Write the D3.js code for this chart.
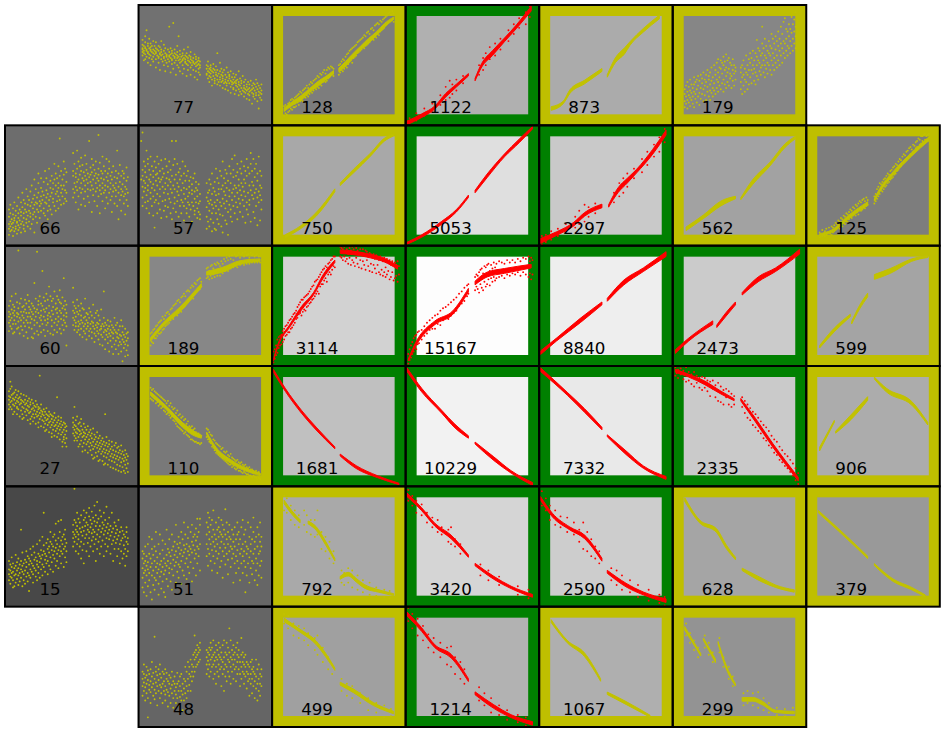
<!DOCTYPE html>
<html>
<head>
<meta charset="utf-8">
<script src="https://cdn.jsdelivr.net/npm/d3@7"></script>
<style>
  html, body { margin: 0; padding: 0; background: white; }
  svg { display: block; }
</style>
</head>
<body>
<script>
// hit counts per chip, null = no chip at that place
const counts = [
  [null, 77, 128, 1122, 873, 179, null],
  [66, 57, 750, 5053, 2297, 562, 125],
  [60, 189, 3114, 15167, 8840, 2473, 599],
  [27, 110, 1681, 10229, 7332, 2335, 906],
  [15, 51, 792, 3420, 2590, 628, 379],
  [null, 48, 499, 1214, 1067, 299, null]
];
// n = no frame, y = yellow frame, g = green frame
const status = [
  ["", "n", "y", "g", "y", "y", ""],
  ["n", "n", "y", "g", "g", "y", "y"],
  ["n", "y", "g", "g", "g", "g", "y"],
  ["n", "y", "g", "g", "g", "g", "y"],
  ["n", "n", "y", "g", "g", "y", "y"],
  ["", "n", "y", "g", "y", "y", ""]
];

// traces: [phase, amplitude, spread], each cell has two or more pieces
const bands = {
  128: [[[9,13,1.5],[15,18,1.5],[22,23,2],[28,29,1.5],[35,35,2],[40,39,1.5],[46,44,1.5]], [[50,46,1.5],[55,51,2],[60,57,2],[66,64,1.5],[72,70,2],[78,76,1.5],[84,83,1.5],[91,89,1]]],
  1122: [[[1,2,1.5],[12,8,1.5],[22,15,1.2],[30,25,1.5],[38,33,1.2],[47,42,1]], [[52,38,1],[57,50,1.5],[65,60,2],[74,71,1.5],[83,82,1.5],[94,97,2]]],
  873: [[[9,14,1.5],[18,19,1],[23,28,1.5],[34,36,1.5],[47,46,1.2]], [[51,41,1],[57,54,2],[64,62,2.5],[68,68,1.5],[78,79,1.5],[90,90,1.5]]],
  750: [[[10,8,1.2],[21,15,1.2],[33,26,1.5],[47,46,1.2]], [[51,51,1],[61,62,1.5],[74,76,1.2],[84,88,1.2],[91,92,0.8]]],
  5053: [[[1,2,0.8],[12,8,1],[27,19,1.2],[38,29,1],[47,41,1]], [[52,45,1],[61,58,1.5],[74,75,1.2],[85,87,1.5],[95,98,1]]],
  2297: [[[1,4,2],[13,10,1.5],[26,18,1.5],[34,26,1.5],[47,33,1.5]], [[52,33,1],[59,46,2],[66,54,2],[73,62,1.5],[85,78,2],[95,94,2]]],
  562: [[[10,14,1.5],[23,24,1.5],[36,35,2],[47,40,1]], [[51,39,0.8],[60,53,2],[73,68,1.5],[84,83,1.5],[92,90,1]]],
  125: [[[10,9,1],[19,12,1],[32,24,1.5],[46,35,1.5]], [[51,38,1],[55,46,1.5],[65,60,1.5],[79,76,1.5],[92,89,1.5]]],
  189: [[[9,22,1.5],[18,34,1.5],[31,47,2],[47,67,1.5]], [[51,77,1.5],[63,80,2],[76,86,1.5],[91,88,1]]],
  3114: [[[1,5,0.8],[5,19,1],[13,33,1],[22,48,1.5],[31,60,1],[38,74,1.5],[47,87,1]], [[51,95,1.5],[61,94,1.5],[71,92,1.5],[84,88,1.5],[94,82,1.5]]],
  15167: [[[2,5,0.8],[8,19,1.5],[22,36,1.5],[35,44,1.5],[47,63,1.5]], [[52,69,1.5],[61,76,2],[74,79,2],[94,83,1.5]]],
  8840: [[[1,11,1.5],[13,22,1.2],[31,38,1.8],[47,52,1.2]], [[51,55,1.2],[63,69,2],[78,80,1.5],[95,93,2]]],
  2473: [[[2,12,1.5],[12,22,1.2],[30,36,1.5]], [[33,33,1],[40,43,1.5],[47,52,1.2]], [[52,60,1],[64,72,2],[77,80,1.5],[95,95,2]]],
  599: [[[10,16,1],[21,30,1.5],[33,42,1]], [[34,36,1],[40,49,1.5],[46,59,1.5]], [[51,74,2],[63,79,2],[79,88,1],[91,91,0.8]]],
  110: [[[9,77,1.5],[21,65,1.5],[33,51,2],[40,45,2],[47,41,1]], [[51,44,1],[58,31,1.5],[70,20,1.5],[91,10,1]]],
  1681: [[[1,96,1.2],[10,80,1.2],[22,62,1.2],[33,48,1.2],[47,32,0.8]], [[51,26,0.8],[63,16,1.2],[79,8,0.8],[95,2,0.6]]],
  10229: [[[1,97,1.5],[12,80,1.5],[27,62,1.2],[37,50,1.5],[47,41,1]], [[52,36,0.8],[66,23,1.5],[79,12,1],[95,2,1.2]]],
  7332: [[[1,97,1.5],[21,77,1.2],[34,63,1.5],[47,48,1]], [[51,42,0.8],[65,28,1.5],[78,16,1],[95,7,1.2]]],
  2335: [[[2,96,1.2],[12,92,1.2],[24,86,1.5],[36,78,1.2],[46,72,0.8]], [[51,72,1],[62,55,1.5],[75,34,1.5],[94,6,1.5]]],
  906: [[[10,31,1.5],[21,54,0.8]], [[22,45,0.8],[34,58,2],[46,73,1.5]], [[51,90,0.8],[60,80,1.5],[79,69,1.5],[91,52,1]]],
  792: [[[9,87,1.5],[15,78,1.5],[21,71,1.2]], [[27,70,1.2],[33,65,1.5],[40,53,1.5],[47,39,1]], [[51,24,1.2],[57,27,1.5],[63,22,1.5],[69,17,1.5],[80,13,1],[91,10,0.8]]],
  3420: [[[1,93,1.5],[12,81,1.2],[22,68,1.2],[34,58,1.5],[47,42,1]], [[52,35,1],[66,24,1.2],[79,16,1],[95,9,1.2]]],
  2590: [[[1,90,1.5],[10,76,1.5],[23,65,1.2],[34,58,1.5],[47,39,1.2]], [[51,29,1.2],[65,18,1.5],[78,11,1.2],[95,5,1.5]]],
  628: [[[9,89,1.5],[20,71,1.2],[33,63,1.5],[40,50,1.5],[47,40,1]], [[52,31,1],[67,22,1.5],[77,17,1],[91,13,1]]],
  379: [[[9,79,1],[24,64,1],[46,41,1]], [[51,35,0.8],[65,22,1],[79,15,1],[89,9,0.8]]],
  499: [[[9,89,1.5],[21,80,1.2],[33,70,1.5],[40,60,1.5],[47,48,1]], [[51,36,1.2],[61,30,1.5],[76,19,1.2],[91,12,1]]],
  1214: [[[1,94,1.5],[12,81,1.5],[22,67,1.2],[34,59,1.5],[47,39,1.2]], [[52,28,1.2],[66,17,1.5],[79,9,1.2],[95,3,1.5]]],
  1067: [[[9,88,1.2],[21,71,1],[34,60,1.5],[46,39,1]], [[51,28,1],[65,20,1.2],[83,9,0.8]]],
  299: [[[9,82,1.5],[21,60,1]], [[23,73,1],[32,55,1.5]], [[34,70,1],[40,50,1.5],[47,35,1]], [[52,23,1.5],[60,23,1.5],[67,20,1.5],[77,13,1],[91,12,1]]]
};

// single hits, each row is [phase, amplitude, amplitude, ...]
const dots77 = [[3,58,61,63,64,67,71],[4,60,62,66,54],[5,55,59,64,65,69,74],[6,79,57,62,63],[7,61,66,68,60,52],[8,56,64,72,59],[9,62,58,65,50,63,68],[10,55,61,66],[11,60,53,63,70,57],[12,66,59,62],[13,48,55,61,60,64,69],[14,58,63],[15,52,57,62,56,66],[16,60,46,65,59],[17,55,58,63,61,70],[18,53,59],[19,50,62,56,57,67],[20,45,60,64,54],[21,59,52,57,58],[22,63,49,55],[23,82,61,53,58,57],[24,44,59,64,56],[25,51,55,60,62,54],[26,85,47,58],[27,57,52,63,56,60],[28,42,54,59],[29,56,50,58,61,66],[30,74,54,57,48],[31,59,52,55,62,45],[32,57,53],[33,43,55,60,50,58,54],[34,63,56,47],[35,52,58,53,55],[36,57,41,60,51],[37,50,54,65,46,56],[38,58,53],[39,48,52,55,61,42,57],[40,54,50],[41,46,56,53,52],[42,59,40,51],[43,55,45,49,52,57],[44,50,53,38],[45,47,51,56,54,44],[46,42,50,53,48],
  [51,47,43,50,42],[52,39,49,45,53],[53,44,41,47,36],[54,46,50,40,43,48],[55,33,38,45],[56,44,41,51,47],[57,37,46,39,35],[58,42,49,44],[59,60,34,41,46,38],[60,43,36],[61,40,52,45,33,38],[62,42,36,47],[63,31,39,44,37,41],[64,46,35],[65,38,42,30,36],[66,48,40,33,35],[67,44,29,37],[68,39,35,41,42],[69,32,37,27,45],[70,40,34,36],[71,38,43,30,31,35],[72,26,36,40],[73,33,37,29,42,35],[74,32,38],[75,45,25,34,30,36],[76,28,39,33],[77,35,31,26,37],[78,41,29],[79,33,36,24,31,28],[80,38,30,27],[81,34,22,32,29],[82,36,26,30],[83,31,21,28,34,25],[84,37,29],[85,18,33,27,30],[86,24,35,31,26],[87,29,22,34],[88,27,32,38,25],[89,20,30,35],[90,14,28,33,25],[91,31,23,27],[92,34,26,29,21]];

const dots66 = [[3,9,14,24,18,30],[4,20,27,12,16,34],[5,13,22,18],[6,26,8,15,19,31],[7,23,12,36,21],[8,16,29,14,25],[9,20,10,33,19],[10,27,17,40,13,23],[11,30,21,15],[12,11,25,18,36,28],[13,44,20,32],[14,14,27,23,38,17],[15,30,12,35],[16,22,28,19,47],[17,34,25,16,41],[18,38,20,29],[19,24,45,33,27,14],[20,50,18,36],[21,31,39,26,22],[22,11,42,28,55,34],[23,36,24,47],[24,19,40,30,35],[25,60,28,44,52],[26,33,23,37],[27,41,29,48,56,35],[28,18,38,45],[29,31,53,42,27],[30,62,25,36],[31,46,35,40,56],[32,29,51,22,43],[33,38,64,33],[34,48,41,54,30],[35,26,44,58],[36,52,36,47,39],[37,68,33,55],[38,43,50,29,60],[39,37,45,56],[40,66,31,48,52,41],[41,89,58,38],[42,44,62,50,34],[43,55,41,47],[44,59,35,70,50],[45,46,64,39],[46,53,61,44,37],
  [51,40,58,47,77,62],[52,52,68,44],[53,36,60,49,57],[54,79,46,64,53],[55,41,70,55,30],[56,59,48,66,],[57,34,52,44,62,73],[58,56,47,67],[59,61,39,54],[60,50,75,33,58,45],[61,63,55,68],[62,41,52,60,47],[63,87,36,57],[64,46,65,53,59],[65,28,72,50,61],[66,42,55,47,67],[67,58,37,63],[68,52,70,45,60],[69,33,56,48],[70,92,64,41,54,59],[71,27,50,69,46],[72,62,43,56],[73,37,74,52,48,60],[74,66,44,55],[75,31,50,62,46],[76,72,40,57],[77,54,35,60,49],[78,64,44,70],[79,38,52,47,58],[80,28,61,41,55],[81,45,66,50],[82,35,57,48,],[83,62,41,52,46],[84,79,33,56],[85,22,49,60,44],[86,67,38,53],[87,29,47,58,42],[88,62,51,45],[89,35,56,41,60],[90,26,49,43],[91,65,38,54,47],[92,33,57,44]];

const dots57 = [[2,87,55],[3,94,40,58,49,63,33],[4,70,45,54],[5,36,61,48,66,52],[6,79,42,57,31],[7,50,68,46,72,37],[8,63,27,55],[9,44,53,59,39,74],[10,66,33,48],[11,57,41,62,51,25],[12,15,70,46,36],[13,54,65,38,59],[14,43,27,60,50,74],[15,35,56,68],[16,47,62,30,41,53],[17,23,71,55],[18,64,37,49,57],[19,44,29,60,],[20,72,38,52,47,33],[21,66,24,56],[22,43,61,32,50],[23,70,39,55],[24,47,27,63,53,36],[25,87,58,44,22],[26,67,31,50],[27,40,72,55,35,47],[28,87,28,59],[29,45,68,37,52],[30,61,24,42,49],[31,55,33,64],[32,27,46,38,58],[33,70,52,36],[34,21,60,43,48,33],[35,66,54,39],[36,27,47,58,31],[37,62,41,36],[38,24,54,44,34,49],[39,30,57],[40,20,43,36,51,46],[41,33,56],[42,26,60,39,45,29],[43,36,53,48],[44,23,41,31,46],[45,51,28,35],[46,22,43,37,26],
  [51,14,32,52,24,40],[52,44,20,37],[53,55,16,29,46,35],[54,38,51,22],[55,12,60,34,43,27],[56,48,19,31],[57,53,36,45,14],[58,13,64,27,42,33],[59,56,22,38],[60,47,30,52,18,43],[61,62,36,26],[62,16,58,47,33],[63,11,70,39,50,25],[64,45,56,35],[65,21,63,31,52,42],[66,37,60,18,48],[67,9,54,28],[68,66,34,46,41],[69,24,60,52,30],[70,72,38,20,44],[71,57,33,63,47],[72,75,27,41,50],[73,36,58,48],[74,61,22,44,32,68],[75,55,39,50],[76,28,64,35,46],[77,70,42,52,60],[78,24,49,38],[79,66,33,45,55],[80,19,62,41,52],[81,72,36,58,30],[82,44,26,65],[83,50,38,60,34],[84,77,20,68,46],[85,53,42,62],[86,72,28,39,50],[87,23,57,44,64],[88,68,33,47],[89,17,54,40,60],[90,74,36,45],[91,21,62,50,42],[92,30,58,38,48]];

const dots60 = [[3,36,50,41,45,29],[4,54,33,43,38],[5,47,58,31,40],[6,35,44,51,27],[7,42,38,28,49,46],[8,60,35],[9,31,53,41,44],[10,96,37,48,32,43],[11,27,52,40],[12,45,56,33,38],[13,49,30,42],[14,25,36,45,50,40],[15,55,33,47],[16,38,28,44,52],[17,41,59,36,23],[18,49,32,54,44],[19,36,47,41],[20,24,52,31,45,39],[21,23,50,43],[22,69,34,48,38,27],[23,56,41,45],[24,95,29,47,36],[25,26,54,44,51],[26,33,58,40],[27,46,28,52,38,42],[28,79,35,50],[29,30,57,41,47],[30,25,54,38,45],[31,60,34,48],[32,42,29,55,39,36],[33,66,44,50],[34,27,58,41],[35,33,54,46,38],[36,26,56,49,43],[37,62,36,30],[38,47,39,52],[39,28,58,44,34,48],[40,37,55,41],[41,63,31,53,46],[42,27,44,39,52],[43,34,57,48],[44,73,30,50,42,38],[45,54,36,47],[46,17,44,33,51,41],
  [51,65,34,53,46,40],[52,30,50,44,38],[53,33,48,36,41],[54,55,28,45],[55,43,33,37,50,30],[56,46,26,35],[57,52,31,38,42],[58,24,48,36],[59,40,47,29,33],[60,56,35,41,27],[61,22,44,31,38],[62,43,36,33],[63,48,25,29,40],[64,31,45,35],[65,23,42,28,37],[66,51,33,36],[67,20,40,27,31],[68,44,25,34],[69,29,46,36,32],[70,22,42,35,27],[71,38,18,30],[72,47,26,33,31],[73,17,35,24],[74,62,40,28,33],[75,14,36,22,30],[76,29,26,34],[77,38,19,31,24],[78,12,33,27],[79,37,21,30,25],[80,16,34,28],[81,27,10,32,23],[82,40,18,30],[83,14,34,21,28],[84,36,24,27],[85,10,30,17,23],[86,33,20,26],[87,12,38,25,18],[88,4,33,22,28],[89,15,26,20],[90,31,8,24,18],[91,27,13,21],[92,9,28,17,23]];

const dots27 = [[3,68,79,72,75,64],[4,87,81,66,74,70],[5,83,64,76,71],[6,73,68,77,60],[7,62,78,67,72],[8,80,69,74],[9,60,76,66,71,65],[10,79,64,73,70],[11,58,74,68],[12,77,63,69,72],[13,60,71,66,56],[14,76,57,70,65],[15,72,62,68],[16,59,75,64,69],[17,55,71,63,67],[18,73,61,66],[19,56,70,62,68,52],[20,58,72,64],[21,54,69,60,65],[22,67,57,63],[23,52,71,60,66],[24,58,68,62],[25,53,66,59,64,49],[26,92,61,56,65],[27,50,68,58,63],[28,55,62,60],[29,49,64,54,59],[30,52,62,57,46],[31,65,47,55,60],[32,51,59,56],[33,45,62,53,58],[34,60,49,54],[35,44,59,51,56,41],[36,58,47,53],[37,42,61,50,55],[38,46,57,51],[39,74,41,53,48],[40,58,44,50,55],[41,39,52,47],[42,57,43,49,54],[43,37,51,45,33],[44,53,41,39,47],[45,36,52,43,49],[46,33,50,40,46],
  [51,57,44,49,53],[52,66,42,51,47,38],[53,55,40,45,50],[54,38,58,44,48],[55,52,41,47,33],[56,35,53,43,46],[57,56,38,44,50],[58,33,47,41,29],[59,52,36,45,42],[60,30,49,39,44],[61,47,35,41],[62,28,50,37,43],[63,45,33,39],[64,30,47,42,36],[65,26,44,34,40],[66,48,31,37,23],[67,24,43,33,39],[68,41,28,35],[69,25,45,37,32],[70,29,40,34,21],[71,22,42,31,36],[72,38,27,33],[73,21,40,29,35],[74,37,25,31,18],[75,60,19,34,28],[76,41,24,30,36],[77,18,33,27],[78,38,22,29,35],[79,16,31,25],[80,37,21,27,33],[81,15,30,24],[82,34,20,26],[83,14,36,23,29],[84,32,18,25],[85,13,33,22,28],[86,30,17,24],[87,12,34,20,27],[88,29,16,23],[89,13,26,21],[90,11,30,18,24],[91,27,15,22],[92,12,25,19]];

const dots15 = [[3,27,22,38,31],[4,35,19,25,30],[5,41,24,33,28],[6,16,36,22,29],[7,32,17,26],[8,43,20,34,27],[9,30,23,37],[10,18,40,26,32],[11,35,21,28],[12,64,38,24,31],[13,45,17,29,34],[14,36,22,27],[15,19,39,30],[16,46,25,33,37],[17,28,42,21],[18,13,35,40,26],[19,48,24,31,38],[20,36,29,43],[21,50,20,34,27],[22,39,32,45],[23,30,25,41],[24,52,22,35,38],[25,44,28,33],[26,55,24,37,42],[27,40,31,47],[28,58,26,35,43],[29,78,33,46,51],[30,39,44,29],[31,53,36,42],[32,27,56,38,48],[33,34,45,50],[34,62,31,41,54],[35,47,37,52],[36,58,29,43,50],[37,40,60,46],[38,69,34,49,55],[39,52,38,44],[40,71,32,57,47],[41,42,62,50],[42,72,36,46,55],[43,58,44,52],[44,33,60,48],[45,64,41,50,56],[46,37,53,46],
  [51,68,50,57,62],[52,98,54,72,60],[53,46,70,58,64],[54,78,52,62,67],[55,44,73,56,60],[56,65,50,70],[57,40,76,54,62],[58,47,66,59],[59,36,80,52,63,72],[60,67,57,74],[61,46,78,60,70],[62,53,68,64],[63,42,82,57,75,62],[64,72,50,66],[65,79,55,61,69],[66,46,74,58,64],[67,84,52,62,71],[68,38,76,56,67],[69,87,48,60,70],[70,54,73,64],[71,44,80,58,67],[72,75,50,62],[73,55,70,65],[74,42,78,60,68],[75,52,72,63],[76,83,46,57,66],[77,69,50,61],[78,74,56,64],[79,44,67,59],[80,78,52,62],[81,38,65,55],[82,70,48,58],[83,53,67,61],[84,42,64,56],[85,72,48,59],[86,36,62,52],[87,66,46,55],[88,40,63,57],[89,60,44,51],[90,34,58,48],[91,66,42,54,62],[92,46,57,52]];

const dots51 = [[3,46,16,32,24,40],[4,12,44,28,36],[5,50,20,38,30],[6,9,42,26,34],[7,52,17,37,31],[8,58,22,44,28],[9,12,40,33],[10,6,56,26,48,36],[11,43,18,30],[12,50,14,38,24],[13,62,22,46,33],[14,41,28,36],[15,10,52,19,31],[16,60,25,44,35],[17,38,15,29],[18,55,21,47,33],[19,12,40,27],[20,8,52,30,36],[21,64,23,43,34],[22,48,17,38],[23,56,28,45,32],[24,42,21,36],[25,60,14,47,31],[26,50,26,39],[27,54,34,43],[28,68,20,46,37],[29,52,29,41],[30,58,24,49,35],[31,44,33,53],[32,62,19,47,38],[33,30,56,42],[34,70,26,51,45],[35,60,36,48],[36,23,52,40],[37,66,33,57,46],[38,28,50,43],[39,62,37,48],[40,21,68,54,45],[41,58,32,51],[42,40,60,47],[43,65,26,55,44],[44,73,36,50,58],[45,62,42,48],[46,73,30,68,52],
  [51,70,42,60,52],[52,78,34,66,48],[53,74,44,62,56],[54,38,68,52],[55,30,72,58,47],[56,80,42,64,54],[57,36,60,50],[58,70,46,56],[59,28,64,40,52],[60,74,44,66,58],[61,33,62,49],[62,72,38,60,54],[63,24,68,46,58],[64,64,42,52],[65,81,35,60,49],[66,70,44,56],[67,27,62,39,52],[68,68,46,58],[69,33,56,50],[70,64,40,48],[71,20,60,44,54],[72,66,36,50],[73,28,56,42],[74,70,38,60,47],[75,32,62,52],[76,22,56,44],[77,66,36,48],[78,72,28,52,42],[79,60,38,46],[80,12,64,33,54],[81,50,26,44],[82,70,36,48],[83,20,58,41],[84,66,32,52,46],[85,56,27,38],[86,74,36,62,44],[87,22,54,48],[88,58,30,40],[89,18,66,36,50],[90,60,26,44],[91,70,34,54,46],[92,58,24,50,38]];

const dots48 = [[3,46,26,40,34],[4,52,30,44,37],[5,22,41,33],[6,50,28,43,36],[7,8,47,24,39],[8,44,31,35],[9,48,20,38,29],[10,54,33,42],[11,45,26,36],[12,75,40,23,31],[13,50,28,46,37],[14,43,18,34],[15,48,30,39],[16,52,24,44,35],[17,41,28,33],[18,46,20,36],[19,44,30,38],[20,48,22,34,27],[21,45,31,40],[22,38,17,29],[23,43,26,36],[24,41,20,32],[25,46,28,35],[26,38,16,24],[27,42,30,36],[28,33,20,27],[29,45,24,36],[30,38,18,30],[31,42,25,34],[32,44,22,30],[33,36,14,27],[34,40,22,32],[35,50,28,38],[36,46,24,34],[37,54,30,40],[38,50,35,44],[39,56,30,42],[40,52,38,46],[41,60,42,50],[42,76,62,46,56],[43,64,50,58],[44,68,52,60],[45,66,54,62],[46,70,56,64],
  [51,64,44,58,52],[52,62,48,55],[53,66,42,60,52],[54,70,46,64,56],[55,66,50,58],[56,72,40,60,52],[57,62,44,55],[58,68,36,58,50],[59,64,46,56],[60,70,42,60,52],[61,66,48,58],[62,62,34,56,50],[63,68,44,54],[64,72,30,58,48],[65,62,42,52],[66,70,38,60,50],[67,66,46,56],[68,82,62,42,54],[69,72,36,58,50],[70,64,46,56],[71,68,40,60,52],[72,62,48,56],[73,66,38,50],[74,70,44,60,54],[75,64,48,58],[76,54,34,44],[77,74,60,40,50],[78,62,46,54],[79,58,36,52,44],[80,60,42,50],[81,54,32,46],[82,52,38,44],[83,50,26,40],[84,54,36,44],[85,56,28,48,40],[86,50,34,46],[87,44,24,38],[88,56,32,42],[89,48,22,36],[90,52,30,40],[91,44,26,36],[92,48,34,42]];

const dots179 = [[9,30,15,26,20],[10,33,18,24],[11,36,14,28,21],[12,32,19,25],[13,38,16,29,23],[14,34,21,27],[15,31,18,24],[16,40,15,34,28],[17,36,22,26],[18,38,19,30],[19,41,24,33],[20,37,17,27],[21,42,22,31],[22,39,26,35],[23,44,20,30],[24,38,25,33],[25,42,21,36],[26,46,28,32],[27,41,24,38],[28,44,21,34,29],[29,48,27,37],[30,40,24,31],[31,50,29,35],[32,46,26,42],[33,52,31,38],[34,55,28,44,36],[35,48,33,40],[36,54,30,47],[37,52,35,43],[38,57,28,50,38],[39,53,34,46],[40,59,31,48,41],[41,54,36,44],[42,56,33,47],[43,52,39,43],[44,50,31,41],[45,55,37,46],[46,50,33,43],[47,48,38,45],
  [51,48,30,44,36],[52,50,26,40],[53,54,33,42],[54,47,28,38],[55,58,36,44],[56,50,30,42],[57,55,34,46],[58,60,40,52],[59,56,35,46],[60,62,43,50],[61,54,37,47],[62,60,34,44],[63,71,41,57,50],[64,64,38,54],[65,62,45,52],[66,58,42,48],[67,82,68,50,60],[68,64,44,54],[69,72,40,50,58],[70,66,47,56],[71,62,43,52],[72,70,50,60],[73,66,46,58],[74,76,42,64,54],[75,72,50,60],[76,68,46,56],[77,74,52,63],[78,70,48,58],[79,78,54,66],[80,72,50,62],[81,82,58,68],[82,76,52,64],[83,86,60,70],[84,89,56,68],[85,80,62,72],[86,78,58,66],[87,84,64,74],[88,80,60,70],[89,90,66,77],[90,84,62,72],[91,88,68,78],[92,94,64,74,82]];

const dots128 = [[9,8,16],[10,10,17],[11,9,15],[12,18,11],[13,12,19],[14,14,21],[15,13,22],[16,21,15],[17,15,23,18],[18,24,16],[19,19,25],[20,17,26],[21,28,20],[22,27,21],[23,20,29],[24,24,30],[25,31,23],[26,25,33],[27,24,31],[28,34,26],[29,28,36],[30,27,35],[31,37,29],[32,31,38],[33,30,39],[34,41,32],[35,40,31],[36,34,43],[37,33,42],[38,44,36],[39,37,46],[40,36,43],[41,46,37],[42,39,48],[43,40,47],[44,49,42],[45,43,48],[46,41,47],
  [50,42,50],[51,44,51],[52,53,46],[53,45,55],[54,47,54],[55,57,49],[56,48,59],[57,51,60],[58,62,53],[59,54,63],[60,52,64],[61,56,65],[62,66,57],[63,58,67],[64,60,69],[65,70,61],[66,62,71],[67,63,72],[68,73,65],[69,64,75],[70,66,74],[71,77,67],[72,68,78],[73,69,76],[74,80,71],[75,72,81],[76,71,79],[77,83,74],[78,73,84],[79,76,85],[80,75,84],[81,87,78],[82,79,86],[83,80,88],[84,89,81],[85,83,90],[86,84,91],[87,85,93],[88,94,86],[89,87,92],[90,88,95],[91,86,93]];

const dots125 = [[10,7,11],[12,8,13],[14,8,12],[15,14,9],[17,11,15],[18,10],[19,16,9],[20,15,11],[21,17,12],[22,13,19],[23,18,14],[24,21,15],[25,14,20],[26,23,17],[27,16,22],[28,25,19],[29,18,24],[30,27,20],[31,20,26],[32,28,22],[33,24,30],[34,23,29],[35,32,25],[36,26,31],[37,34,25],[38,28,33],[39,26,35],[40,31,37],[41,29,36],[42,38,30],[43,32,39],[44,31,37],[45,40,33],[46,34,38],
  [51,35,41],[52,43,37],[53,39,47],[54,41,49],[55,52,43],[56,46,51],[57,45,53],[58,55,47],[59,49,56],[60,50,58],[61,60,52],[62,53,59],[63,62,55],[64,56,63],[65,57,65],[66,66,59],[67,60,68],[68,62,67],[69,70,63],[70,65,72],[71,66,71],[72,74,68],[73,69,76],[74,70,75],[75,78,71],[76,73,79],[77,74,81],[78,82,76],[79,76,80],[80,78,84],[81,79,83],[82,86,81],[83,82,87],[84,89,82],[85,84,88],[86,91,85],[87,87,91],[88,86,92],[89,88,93],[90,88,91],[91,87,92],[92,90,93]];

const dots189 = [[9,17,27],[10,20,28],[11,19,30],[12,31,23],[13,23,33],[14,25,34],[15,36,27],[16,27,37],[17,28,38],[18,41,30],[19,31,39],[20,33,42],[21,44,34],[22,35,45],[23,36,43],[24,47,38],[25,40,48],[26,39,50],[27,51,42],[28,43,52],[29,42,54],[30,55,44],[31,46,53],[32,45,57],[33,58,48],[34,49,60],[35,50,58],[36,62,52],[37,53,63],[38,55,62],[39,65,57],[40,58,67],[41,56,66],[42,69,60],[43,61,68],[44,62,71],[45,72,63],[46,64,73],[47,66,70],
  [51,73,81],[52,82,74],[53,72,79],[54,83,75],[55,73,84],[56,76,81],[57,85,74],[58,77,84],[59,75,86],[60,78,85],[61,75,83],[62,87,79],[63,77,85],[64,89,80],[65,79,87],[66,81,90],[67,79,88],[68,91,82],[69,81,89],[70,92,83],[71,82,88],[72,93,84],[73,83,91],[74,82,92],[75,94,85],[76,84,90],[77,85,93],[78,94,86],[79,84,91],[80,87,95],[81,85,92],[82,93,87],[83,85,90],[84,88,94],[85,86,92],[86,93,88],[87,86,91],[88,87,92],[89,86,93],[90,88,91],[91,86,91]];

const dots110 = [[9,73,82],[10,80,72],[11,71,81],[12,73,79],[13,78,69],[14,70,77],[15,76,67],[16,68,75],[17,74,65],[18,66,73],[19,72,63],[20,62,71],[21,69,60],[22,61,71],[23,59,67],[24,69,57],[25,58,66],[26,55,64],[27,65,54],[28,52,61],[29,63,50],[30,59,49],[31,60,48],[32,47,57],[33,58,46],[34,55,44],[35,56,45],[36,43,52],[37,54,42],[38,50,41],[39,49,39],[40,50,39],[41,47,38],[42,48,37],[43,45,37],[44,44,36],[45,44,36],[46,35,43],[47,36,42],
  [51,48,41],[52,39,47],[53,37,45],[54,36,43],[55,33,42],[56,32,39],[57,30,38],[58,28,36],[59,35,27],[60,26,34],[61,33,25],[62,24,31],[63,32,23],[64,22,29],[65,28,21],[66,29,20],[67,19,26],[68,25,18],[69,18,27],[70,24,16],[71,23,17],[72,15,22],[73,21,14],[74,22,15],[75,13,20],[76,19,13],[77,20,12],[78,11,18],[79,17,12],[80,18,11],[81,10,16],[82,15,10],[83,16,9],[84,14,9],[85,8,14],[86,13,9],[87,8,12],[88,13,7],[89,11,6],[90,12,7],[91,6,10]];

// red and yellow scatter around the thick traces
const fuzz3114 = [[1,3,12],[2,14,6],[3,9,17],[4,22,11],[5,15,24],[6,25,17],[7,18,26],[8,29,20],[9,22,31],[10,33,25],[11,26,34],[12,36,28],[13,28,38],[14,39,31],[15,32,41],[16,43,34],[17,36,44],[18,46,39],[19,40,49],[20,51,43],[21,44,53],[22,42,55],[23,55,45],[24,47,57],[25,46,58],[26,59,49],[27,50,60],[28,62,52],[29,53,64],[30,66,55],[31,56,67],[32,58,70],[33,71,60],[34,62,72],[35,60,74],[36,76,66],[37,68,78],[38,68,80],[39,81,71],[40,73,83],[41,70,82],[42,85,76],[43,78,86],[44,76,88],[45,89,80],[46,83,91],[47,82,91],
  [51,91,99],[52,98,90],[53,88,97],[54,99,91],[55,87,95],[56,97,89],[57,85,93],[58,98,90],[59,84,96],[60,88,99],[61,97,86],[62,83,95],[63,90,98],[64,85,96],[65,82,93],[66,97,88],[67,81,94],[68,87,97],[69,84,92],[70,96,80],[71,88,95],[72,83,91],[73,94,79],[74,85,93],[75,78,90],[76,93,84],[77,81,89],[78,92,77],[79,84,90],[80,78,88],[81,91,76],[82,80,89],[83,87,75],[84,90,78],[85,82,74],[86,89,76],[87,79,86],[88,72,88],[89,84,74],[90,87,78],[91,71,84],[92,86,73],[93,75,84],[94,70,87],[95,76,83]];

const fuzz15167 = [[2,2,10],[3,14,5],[4,7,17],[5,20,10],[6,12,23],[7,25,15],[8,14,26],[9,28,18],[10,19,29],[12,30,22],[14,33,25],[16,27,36],[18,38,30],[20,31,40],[22,42,31],[24,35,43],[26,34,46],[28,48,38],[30,40,49],[32,39,51],[34,53,42],[36,44,55],[38,46,57],[40,60,50],[42,52,62],[44,54,65],[46,67,58],[47,60,68],
  [52,63,74],[53,76,66],[54,64,75],[55,61,78],[56,80,68],[57,65,81],[58,63,77],[59,83,70],[60,66,82],[61,68,84],[62,72,85],[63,67,79],[64,84,73],[65,70,81],[66,86,74],[67,71,82],[68,85,73],[70,74,87],[72,75,86],[74,73,85],[76,88,76],[78,75,86],[80,77,88],[82,76,86],[84,89,78],[86,75,87],[88,90,78],[90,76,89],[92,74,91],[93,77,87],[94,72,90],[95,76,88]];

const fuzz2335 = [[2,99,92],[3,94],[4,97,90],[5,100],[6,93,98],[8,89,96],[10,99,87],[12,95,88],[14,85,93],[16,95,83],[18,86,92],[20,82,90],[22,91,80],[24,82,90],[26,79,88],[28,87,75],[30,81,88],[32,74,84],[34,86,71],[36,70,83],[38,80,68],[40,74,81],[42,68,79],[44,66,77],[46,68,75],
  [52,74,66],[54,61,71],[56,68,57],[58,55,65],[60,62,51],[62,49,60],[64,57,46],[66,44,54],[68,51,40],[70,38,49],[72,46,34],[74,32,42],[76,39,28],[78,26,37],[80,33,22],[82,30,20],[84,27,17],[86,15,25],[88,22,12],[90,9,19],[92,5,15],[94,2,11]];

const fuzz1122 = [[3,6,0],[8,10,4],[14,14,8],[20,18,11],[26,25,17],[30,32,21],[33,37,23],[35,26,34],[38,38,29],[43,41,35],[55,50,42],[58,56,46],[60,60,50],[63,65,55],[67,68,58],[71,72,63],[77,79,70],[81,84,76],[85,89,81],[90,94,84],[93,99,90]];
const fuzz2297 = [[2,8,1],[5,9,3],[9,12,5],[14,14,8],[20,18,12],[27,24,15],[30,29,18],[34,34,20],[37,32,24],[42,35,27],[56,44,36],[60,52,41],[63,56,44],[66,60,49],[71,64,56],[77,72,61],[81,78,67],[86,84,74],[90,90,78],[94,97,86]];
const fuzz3420 = [[2,97,88],[5,92,84],[8,88,78],[12,85,76],[16,78,70],[20,74,66],[24,72,62],[27,66,60],[32,64,54],[34,66,52],[37,56,50],[41,52,44],[56,35,26],[62,30,22],[70,25,18],[84,17,10],[92,14,7]];
const fuzz2590 = [[2,96,84],[5,90,80],[8,84,72],[12,80,68],[16,75,66],[21,74,62],[26,70,60],[30,64,54],[33,70,48],[36,62,46],[39,56,42],[42,50,40],[45,46,36],[54,32,22],[58,30,18],[62,26,14],[68,22,12],[74,18,8],[82,14,5],[90,10,3],[94,8,1]];
const fuzz1214 = [[2,99,88],[5,94,82],[9,90,76],[13,84,72],[17,77,66],[21,74,62],[26,70,58],[31,66,52],[34,67,50],[37,58,44],[41,54,40],[44,48,36],[55,33,22],[59,28,18],[64,24,12],[70,18,10],[76,14,6],[84,10,4],[90,8,1]];
const fuzz792 = [[9,92,80],[11,90,78],[14,84,72],[17,80,68],[20,76,66],[24,80,68],[26,76,62],[29,72,60],[32,72,58],[34,80,60],[37,62,48],[40,58,46],[43,54,40],[46,46,36],[52,30,20],[54,28,18],[57,32,20],[60,30,16],[64,26,14],[68,22,12],[73,20,10],[78,16,9],[84,14,8],[88,13,7]];
const fuzz499 = [[9,94,86],[12,92,82],[16,86,76],[20,84,74],[24,82,72],[27,78,68],[32,74,64],[34,76,60],[38,66,54],[42,58,48],[45,52,44],[52,40,30],[56,36,26],[60,34,24],[66,28,20],[72,24,14],[78,20,12],[84,18,8],[89,15,9]];
const fuzz299 = [[10,86,76],[13,78,70],[16,72,64],[19,66,58],[24,76,66],[27,70,60],[30,62,54],[35,74,62],[38,58,50],[42,50,40],[45,42,34],[53,28,18],[56,30,20],[60,28,18],[64,29,16],[68,24,14],[72,20,12],[78,16,10],[84,15,9],[90,16,8]];

const cloudDots = { 77: dots77, 66: dots66, 57: dots57, 60: dots60, 27: dots27, 15: dots15, 51: dots51, 48: dots48, 179: dots179,
  128: dots128, 125: dots125, 189: dots189, 110: dots110, 3114: fuzz3114, 15167: fuzz15167, 2335: fuzz2335,
  1122: fuzz1122, 2297: fuzz2297, 3420: fuzz3420, 2590: fuzz2590, 1214: fuzz1214, 792: fuzz792, 499: fuzz499, 299: fuzz299 };

const width = 945, height = 733;
const frameColor = { y: "#bfbf00", g: "#008000" };

var svg = d3.select("body").append("svg")
  .attr("width", width)
  .attr("height", height)
  .attr("viewBox", "0 0 " + width + " " + height)
  .attr("xmlns", "http://www.w3.org/2000/svg");

const colScale = d3.scaleLinear().domain([0, 7]).range([5, 939.8]);
const rowScale = d3.scaleLinear().domain([0, 6]).range([5, 727]);

// more hits, lighter background
const grayScale = d3.scaleLog().domain([15, 100, 500, 1214, 1681, 3000, 15167]).range([72, 119, 160, 178, 192, 209, 253]);

const cells = [];
counts.forEach((row, r) => row.forEach((count, c) => {
  if (count !== null) cells.push({ r: r, c: c, count: count, status: status[r][c] });
}));

const cell = svg.selectAll("g.cell").data(cells).enter().append("g").attr("class", "cell");

cell.each(function (d) {
  const g = d3.select(this);
  const x0 = colScale(d.c), x1 = colScale(d.c + 1);
  const y0 = rowScale(d.r), y1 = rowScale(d.r + 1);
  const level = Math.round(grayScale(d.count));
  const gray = d3.rgb(level, level, level).formatHex();
  const pad = d.status === "n" ? 0 : 11;

  g.append("rect").attr("x", x0).attr("y", y0).attr("width", x1 - x0).attr("height", y1 - y0)
    .attr("fill", d.status === "n" ? gray : frameColor[d.status]);
  g.append("rect").attr("x", x0 + pad).attr("y", y0 + pad)
    .attr("width", x1 - x0 - 2 * pad).attr("height", y1 - y0 - 2 * pad)
    .attr("fill", gray);

  const px = d3.scaleLinear().domain([0, 100]).range([x0, x1]);
  const py = d3.scaleLinear().domain([0, 100]).range([y1, y0]);
  const ink = d.status === "g" ? "#ff0000" : "#c2c200";

  const area = d3.area()
    .x(p => px(p[0]))
    .y0(p => py(p[1] - p[2]))
    .y1(p => py(p[1] + p[2]))
    .curve(d3.curveMonotoneX);

  (bands[d.count] || []).forEach(piece => {
    g.append("path").attr("d", area(piece))
      .attr("fill", ink)
      .attr("stroke", ink)
      .attr("stroke-width", 1)
      .attr("stroke-linejoin", "round");
  });

  const hits = (cloudDots[d.count] || []).flatMap(row => row.slice(1).map(y => [row[0], y]));
  g.selectAll("circle").data(hits).enter().append("circle")
    .attr("cx", p => px(p[0]))
    .attr("cy", p => py(p[1]))
    .attr("r", 0.95)
    .attr("fill", ink);

  g.append("text")
    .attr("x", x0 + 45)
    .attr("y", y1 - 12)
    .attr("text-anchor", "middle")
    .attr("font-family", "DejaVu Sans")
    .attr("font-size", 16.7)
    .attr("fill", "black")
    .text(d.count);
});

// grid outline goes on top of everything
svg.selectAll("rect.outline").data(cells).enter().append("rect")
  .attr("class", "outline")
  .attr("x", d => colScale(d.c))
  .attr("y", d => rowScale(d.r))
  .attr("width", d => colScale(d.c + 1) - colScale(d.c))
  .attr("height", d => rowScale(d.r + 1) - rowScale(d.r))
  .attr("fill", "none")
  .attr("stroke", "black")
  .attr("stroke-width", 2);
</script>
</body>
</html>
